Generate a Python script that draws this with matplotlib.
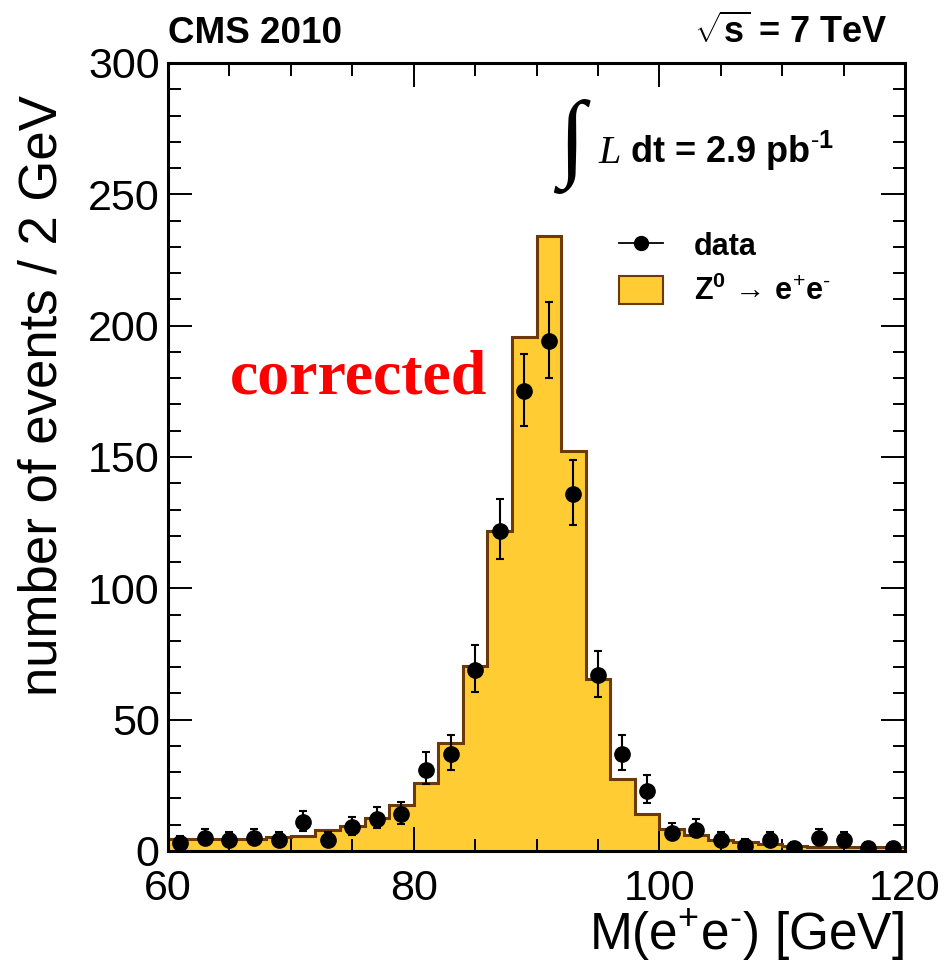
import matplotlib
matplotlib.use('Agg')
import matplotlib.pyplot as plt
import numpy as np
from matplotlib.lines import Line2D
from matplotlib.patches import Patch
from matplotlib.ticker import MultipleLocator

plt.rcParams['font.family'] = ['Liberation Sans', 'DejaVu Sans']
plt.rcParams['mathtext.fontset'] = 'custom'
plt.rcParams['mathtext.rm'] = 'Liberation Sans'
plt.rcParams['mathtext.bf'] = 'Liberation Sans:bold'
plt.rcParams['mathtext.it'] = 'Liberation Sans:italic'

# bin edges, 2 GeV bins from 60 to 120
edges = np.arange(60, 122, 2)

# Z -> ee expectation (histogram)
mc = [4.7, 4.7, 4.7, 4.7, 5.4, 5.8, 8.0, 9.6, 12.7, 17.5,
      26.0, 41.2, 70.4, 122.0, 195.8, 234.2, 152.4, 65.4, 27.3, 14.0,
      8.5, 6.0, 4.2, 3.3, 2.5, 1.9, 1.5, 1.5, 1.5, 1.5]

# data points (bin centres), with asymmetric errors
x_data = [61, 63, 65, 67, 69, 71, 73, 75, 77, 79,
          81, 83, 85, 87, 89, 91, 93, 95, 97, 99,
          101, 103, 105, 107, 109, 111, 113, 115, 117, 119]
n_data = [3, 5, 4, 5, 4, 11, 4, 9, 12, 14,
          31, 37, 69, 122, 175, 194, 136, 67, 37, 23,
          7, 8, 4, 2, 4, 1, 5, 4, 1, 1]
err_lo = [1.6, 2.2, 1.9, 2.2, 1.9, 3.3, 1.9, 2.9, 3.4, 3.7,
          5.6, 6.1, 8.3, 11.0, 13.2, 13.9, 11.7, 8.2, 6.1, 4.8,
          2.6, 2.8, 1.9, 1.3, 1.9, 0.8, 2.2, 1.9, 0.8, 0.8]
err_hi = [2.9, 3.4, 3.2, 3.4, 3.2, 4.4, 3.2, 4.1, 4.6, 4.8,
          6.6, 7.1, 9.3, 12.1, 14.3, 15.0, 12.7, 9.2, 7.1, 5.9,
          3.8, 4.0, 3.2, 2.6, 3.2, 2.3, 3.4, 3.2, 2.3, 2.3]

fill_col = '#FFCC33'
edge_col = '#6B3A06'

fig = plt.figure(figsize=(9.44, 9.64), dpi=100)
ax = fig.add_axes([168/944, 1-851/964, (905-168)/944, (851-63)/964])

ax.stairs(mc, edges, fill=True, facecolor=fill_col, edgecolor='none', zorder=1)
ax.stairs(mc, edges, fill=False, color=edge_col, lw=2.2, zorder=2)
ax.errorbar(x_data, n_data, yerr=[err_lo, err_hi], fmt='o', color='black',
            ms=11, elinewidth=1.5, capsize=3, capthick=1.5, zorder=3)

ax.set_xlim(60, 120)
ax.set_ylim(0, 300)
ax.xaxis.set_major_locator(MultipleLocator(20))
ax.xaxis.set_minor_locator(MultipleLocator(5))
ax.yaxis.set_major_locator(MultipleLocator(50))
ax.yaxis.set_minor_locator(MultipleLocator(10))
ax.tick_params(which='both', direction='in', top=True, right=True, width=1.4)
ax.tick_params(which='major', length=17, labelsize=31, pad=6)
ax.tick_params(axis='x', which='major', pad=13)
ax.tick_params(which='minor', length=9)
for s in ax.spines.values():
    s.set_linewidth(2.2)

fig.text(904/944, 1-950/964, r'M(e$^{+}$e$^{\text{-}}$) [GeV]', ha='right', va='baseline', fontsize=37)
fig.text(68/944, 1-95/964, 'number of events / 2 GeV', rotation=90, ha='right', va='top', fontsize=38)

fig.text(168/944, 1-43/964, 'CMS 2010', fontsize=26.5, fontweight='bold', ha='left', va='baseline')
fig.text(888/944, 1-43/964, r'$\sqrt{\mathbf{s}}$ = 7 TeV', fontsize=26, fontweight='bold',
         ha='right', va='baseline')

# luminosity label
fig.text(571/944, 1-146/964, '\u222b', fontsize=70, family='Liberation Serif',
         ha='center', va='center')
fig.text(598/944, 1-163/964, 'L', fontsize=29, family='Liberation Serif', style='italic',
         ha='left', va='baseline')
fig.text(630/944, 1-163/964, r'dt = 2.9 pb$^{\mathbf{\text{-}1}}$', fontsize=26, fontweight='bold',
         ha='left', va='baseline')

handles = [Line2D([], [], color='black', marker='o', ms=10, lw=1.3),
           Patch(facecolor=fill_col, edgecolor=edge_col, lw=1.5)]
labels = ['data', r'$\mathbf{Z^{0}}\,\rightarrow\,$e$^{+}$e$^{\text{-}}$']
leg = ax.legend(handles, labels, loc='upper left', bbox_to_anchor=(0.595, 0.802), frameon=False,
                prop={'size': 22, 'weight': 'bold'}, handlelength=1.45, handleheight=1.0,
                handletextpad=1.0, labelspacing=0.45, borderaxespad=0)

fig.text(230/944, 1-393/964, 'corrected', color='red', fontsize=46, fontweight='bold',
         family='Liberation Serif', ha='left', va='baseline')

fig.savefig('out.png', dpi=100)
